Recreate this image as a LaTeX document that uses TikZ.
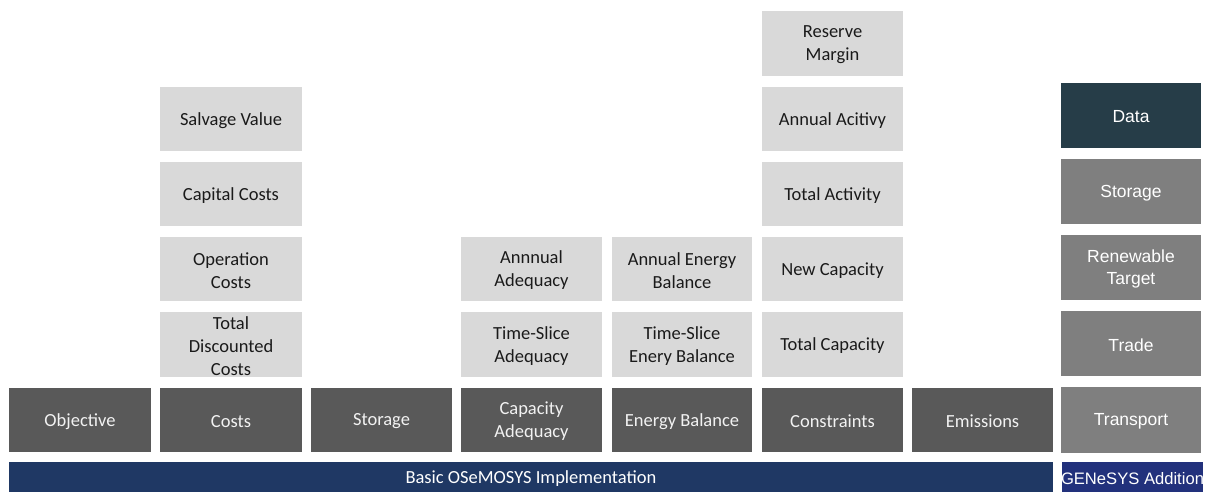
\documentclass[tikz,border=0pt]{standalone}
\usepackage{fontspec}
\setmainfont{Carlito}
\newfontfamily\arialf{Liberation Sans}
\definecolor{darkg}{HTML}{595959}
\definecolor{lightg}{HTML}{D9D9D9}
\definecolor{midg}{HTML}{7F7F7F}
\definecolor{datac}{HTML}{263D48}
\definecolor{barblue}{HTML}{1F3864}
\definecolor{genblue}{HTML}{22317C}
\definecolor{txtd}{HTML}{1A1A1A}
\begin{document}
\begin{tikzpicture}[x=1pt,y=-1pt,
  base/.style={inner sep=0pt,align=center,font=\fontsize{18.5}{23}\selectfont},
  darkbox/.style={base,fill=darkg,text=white!95!black},
  lightbox/.style={base,fill=lightg,text=txtd},
  genbox/.style={base,fill=midg,text=white,font=\arialf\fontsize{17.5}{22}\selectfont},
  databox/.style={genbox,fill=datac},
  barbox/.style={base,fill=barblue,text=white},
  genbar/.style={base,fill=genblue,text=white,font=\arialf\fontsize{16.6}{18}\selectfont}
]
\useasboundingbox (0,0) rectangle (1207,492);
% box macro: name, x1, y1, x2, y2, style, text
\newcommand{\bx}[7]{\path[fill=none] (#2,#3) rectangle (#4,#5);
  \node[#6,minimum width={#4-#2},minimum height={#5-#3}] (#1) at ({(#2+#4)/2},{(#3+#5)/2}) {};
  \node[#6,fill=none,yshift=-1.5pt] at (#1.center) {#7};}
% bottom row
\bx{obj}{9}{388}{151}{452}{darkbox}{Objective}
\bx{costs}{160}{388}{302}{452}{darkbox}{Costs}
\bx{stor}{311}{388}{452}{452}{darkbox}{Storage}
\bx{capad}{461}{388}{602}{452}{darkbox}{Capacity\\Adequacy}
\bx{enbal}{612}{388}{752}{452}{darkbox}{Energy Balance}
\bx{constr}{762}{388}{903}{452}{darkbox}{Constraints}
\bx{emis}{912}{388}{1053}{452}{darkbox}{Emissions}
% costs column
\bx{tdc}{160}{312}{302}{377}{lightbox}{Total\\Discounted\\Costs}
\bx{opc}{160}{237}{302}{301}{lightbox}{Operation\\Costs}
\bx{capc}{160}{162}{302}{226}{lightbox}{Capital Costs}
\bx{salv}{160}{87}{302}{151}{lightbox}{Salvage Value}
% capacity adequacy column
\bx{tsad}{461}{312}{602}{377}{lightbox}{Time-Slice\\Adequacy}
\bx{anad}{461}{237}{602}{301}{lightbox}{Annnual\\Adequacy}
% energy balance column
\bx{tseb}{612}{312}{752}{377}{lightbox}{Time-Slice\\Enery Balance}
\bx{aneb}{612}{237}{752}{301}{lightbox}{Annual Energy\\Balance}
% constraints column
\bx{totcap}{762}{312}{903}{377}{lightbox}{Total Capacity}
\bx{newcap}{762}{237}{903}{301}{lightbox}{New Capacity}
\bx{totact}{762}{162}{903}{226}{lightbox}{Total Activity}
\bx{anact}{762}{87}{903}{151}{lightbox}{Annual Acitivy}
\bx{resm}{762}{11}{903}{76}{lightbox}{Reserve\\Margin}
% GENeSYS column
\bx{gtrans}{1061}{387}{1201}{453}{genbox}{Transport}
\bx{gtrade}{1061}{311}{1201}{376}{genbox}{Trade}
\bx{gren}{1061}{235}{1201}{300}{genbox}{Renewable\\Target}
\bx{gstor}{1061}{159}{1201}{224}{genbox}{Storage}
\bx{gdata}{1061}{83}{1201}{148}{databox}{Data}
% bars
\bx{basic}{9}{462}{1053}{492}{barbox}{Basic OSeMOSYS Implementation}
\bx{gadd}{1062}{462}{1203}{492}{genbar}{GENeSYS Addition}
\end{tikzpicture}
\end{document}
